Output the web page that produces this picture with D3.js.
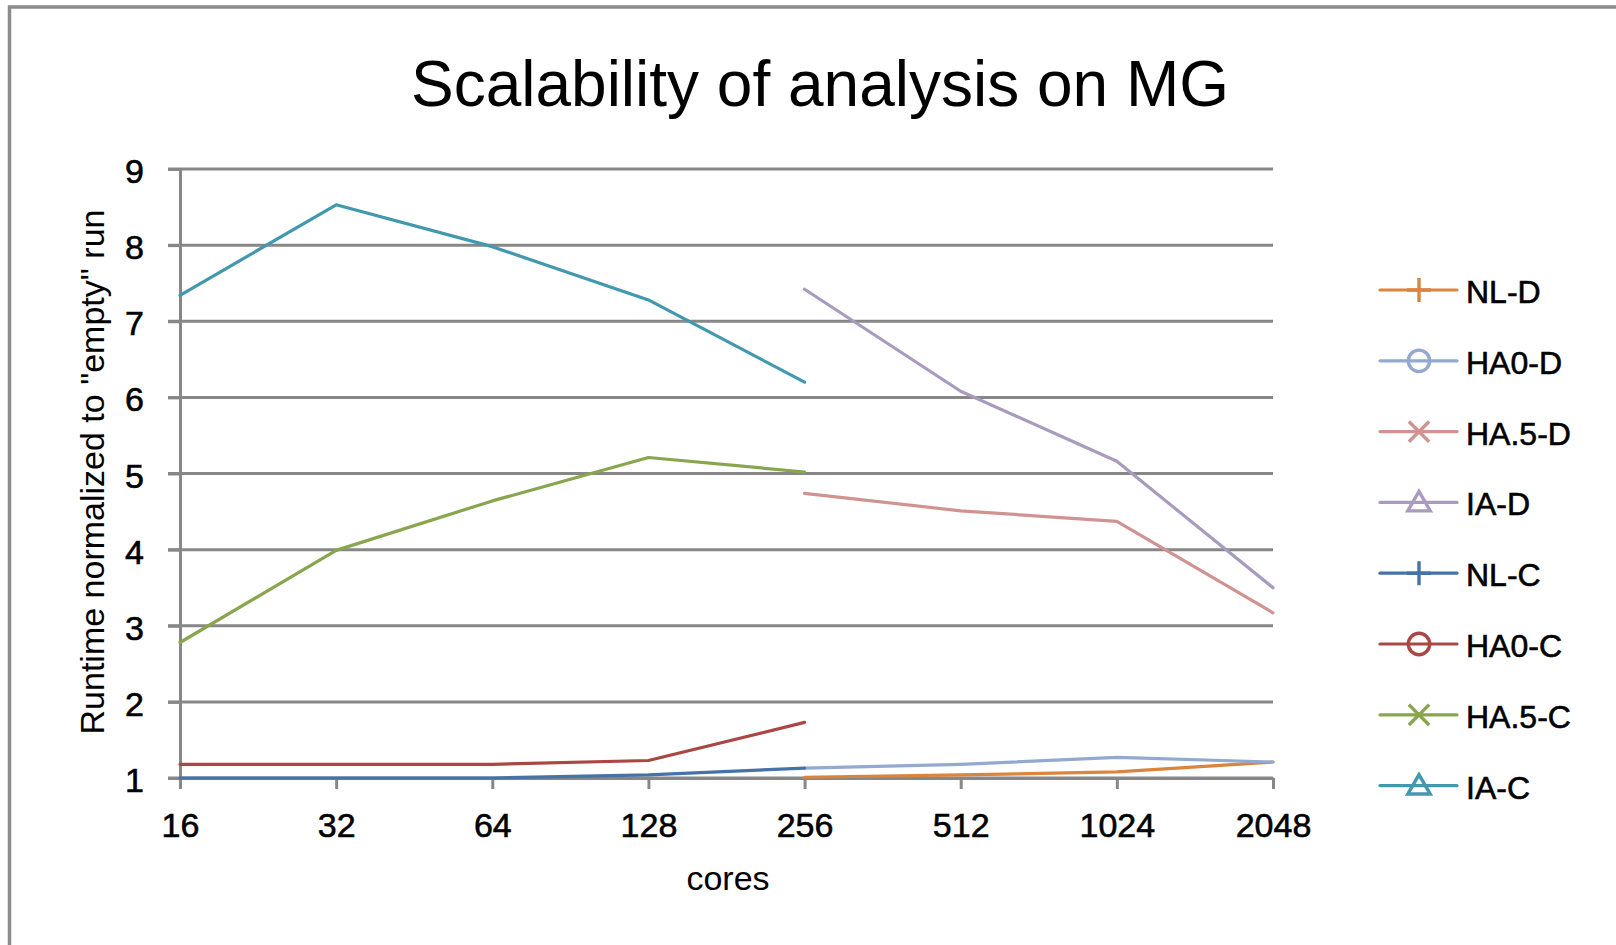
<!DOCTYPE html>
<html>
<head>
<meta charset="utf-8">
<script src="https://cdn.jsdelivr.net/npm/d3@7"></script>
<style>
    body { margin: 0; background: #fff; }
    svg text { font-family: "Liberation Sans", Arial, sans-serif; fill: #000; }
</style>
</head>
<body>
<div id="view"></div>
<script>
// categories (cores)
const cores = ["16", "32", "64", "128", "256", "512", "1024", "2048"];

// runtime normalized to "empty" run, null = not measured
const nlD  = [null, null, null, null, 1.01, 1.04, 1.08, 1.21];
const ha0D = [null, null, null, null, 1.13, 1.18, 1.27, 1.21];
const ha5D = [null, null, null, null, 4.74, 4.51, 4.37, 3.17];
const iaD  = [null, null, null, null, 7.42, 6.08, 5.16, 3.50];
const nlC  = [1.00, 1.00, 1.00, 1.04, 1.13, null, null, null];
const ha0C = [1.18, 1.18, 1.18, 1.23, 1.73, null, null, null];
const ha5C = [2.78, 3.99, 4.64, 5.21, 5.02, null, null, null];
const iaC  = [7.34, 8.53, 7.98, 7.28, 6.20, null, null, null];

const seriesNames = ["NL-D", "HA0-D", "HA.5-D", "IA-D", "NL-C", "HA0-C", "HA.5-C", "IA-C"];
const yTicks = [1, 2, 3, 4, 5, 6, 7, 8, 9];

const series = [
    {name: seriesNames[0], values: nlD,  color: "#DB843D", symbol: d3.symbolPlus,      size: 190, dy: 0},
    {name: seriesNames[1], values: ha0D, color: "#93A9CF", symbol: d3.symbolCircle,    size: 360, dy: 0},
    {name: seriesNames[2], values: ha5D, color: "#D19392", symbol: d3.symbolTimes,     size: 270, dy: 0},
    {name: seriesNames[3], values: iaD,  color: "#A99BBD", symbol: d3.symbolTriangle2, size: 360, dy: 2},
    {name: seriesNames[4], values: nlC,  color: "#4572A7", symbol: d3.symbolPlus,      size: 190, dy: 0},
    {name: seriesNames[5], values: ha0C, color: "#AA4643", symbol: d3.symbolCircle,    size: 360, dy: 0},
    {name: seriesNames[6], values: ha5C, color: "#89A54E", symbol: d3.symbolTimes,     size: 270, dy: 0},
    {name: seriesNames[7], values: iaC,  color: "#4198AF", symbol: d3.symbolTriangle2, size: 360, dy: 2}
];

const W = 1616, H = 945;
const margin = {top: 169, right: 343, bottom: 167, left: 180};
const width = W - margin.left - margin.right;
const height = H - margin.top - margin.bottom;
const gridColor = "#878787";

const svg = d3.select("#view")
    .append("svg")
        .attr("width", W)
        .attr("height", H);

// chart area border (runs off the right and bottom of the picture)
svg.append("rect")
    .attr("x", 9.5).attr("y", 7)
    .attr("width", W + 20).attr("height", H + 20)
    .attr("fill", "none")
    .attr("stroke", "#8c8c8c")
    .attr("stroke-width", 3.5);

// title
svg.append("text")
    .attr("x", 820).attr("y", 106)
    .attr("text-anchor", "middle")
    .style("font-size", "64px")
    .text("Scalability of analysis on MG");

const g = svg.append("g")
    .attr("transform", `translate(${margin.left},${margin.top})`);

// X axis
const x = d3.scalePoint()
    .domain(cores)
    .range([0, width])
    .padding(0);

// Y axis
const y = d3.scaleLinear()
    .domain([1, 9])
    .range([height, 0]);

// horizontal gridlines
g.append("g")
    .selectAll("line")
    .data(yTicks)
    .join("line")
        .attr("x1", -12)
        .attr("x2", width)
        .attr("y1", d => y(d))
        .attr("y2", d => y(d))
        .attr("stroke", gridColor)
        .attr("stroke-width", 3);

const yAxis = g.append("g")
    .call(d3.axisLeft(y).tickValues(yTicks).tickSize(12).tickSizeOuter(0).tickPadding(24));

const xAxis = g.append("g")
    .attr("transform", `translate(0, ${height})`)
    .call(d3.axisBottom(x).tickSize(11).tickSizeOuter(0).tickPadding(24));

[yAxis, xAxis].forEach(ax => {
    ax.select(".domain").attr("stroke", gridColor).attr("stroke-width", 3);
    ax.selectAll(".tick line").attr("stroke", gridColor).attr("stroke-width", 3);
    ax.selectAll(".tick text")
        .style("font-size", "34px")
        .style("font-family", "\"Liberation Sans\", Arial, sans-serif")
        .attr("fill", "#000")
        .attr("stroke", "#000")
        .attr("stroke-width", 0.6);
});
yAxis.selectAll(".tick text").attr("dy", "0.4em");

// axis titles
svg.append("text")
    .attr("transform", "translate(104, 472) rotate(-90)")
    .attr("text-anchor", "middle")
    .style("font-size", "34px")
    .text("Runtime normalized to \"empty\" run");

svg.append("text")
    .attr("x", 728).attr("y", 890)
    .attr("text-anchor", "middle")
    .style("font-size", "34px")
    .text("cores");

// lines
const line = d3.line()
    .defined(d => d != null)
    .x((d, i) => x(cores[i]))
    .y(d => y(d));

series.forEach(s => {
    g.append("path")
        .datum(s.values)
        .attr("fill", "none")
        .attr("stroke", s.color)
        .attr("stroke-width", 3.2)
        .attr("stroke-linejoin", "round")
        .attr("stroke-linecap", "round")
        .attr("d", line);
});

// legend
const legend = svg.append("g")
    .attr("transform", "translate(1380, 290)");

const rows = legend.selectAll("g")
    .data(series)
    .join("g")
        .attr("transform", (d, i) => `translate(0, ${i * 70.8})`);

rows.append("line")
    .attr("x1", 0).attr("x2", 77)
    .attr("y1", 0).attr("y2", 0)
    .attr("stroke", d => d.color)
    .attr("stroke-width", 3.2)
    .attr("stroke-linecap", "round");

rows.append("path")
    .attr("transform", d => `translate(39, ${d.dy})`)
    .attr("d", d => d3.symbol().type(d.symbol).size(d.size)())
    .attr("fill", "none")
    .attr("stroke", d => d.color)
    .attr("stroke-width", 3.4);

rows.append("text")
    .attr("x", 86)
    .attr("y", 13)
    .style("font-size", "32px")
    .attr("stroke", "#000")
    .attr("stroke-width", 0.6)
    .text(d => d.name);
</script>
</body>
</html>
